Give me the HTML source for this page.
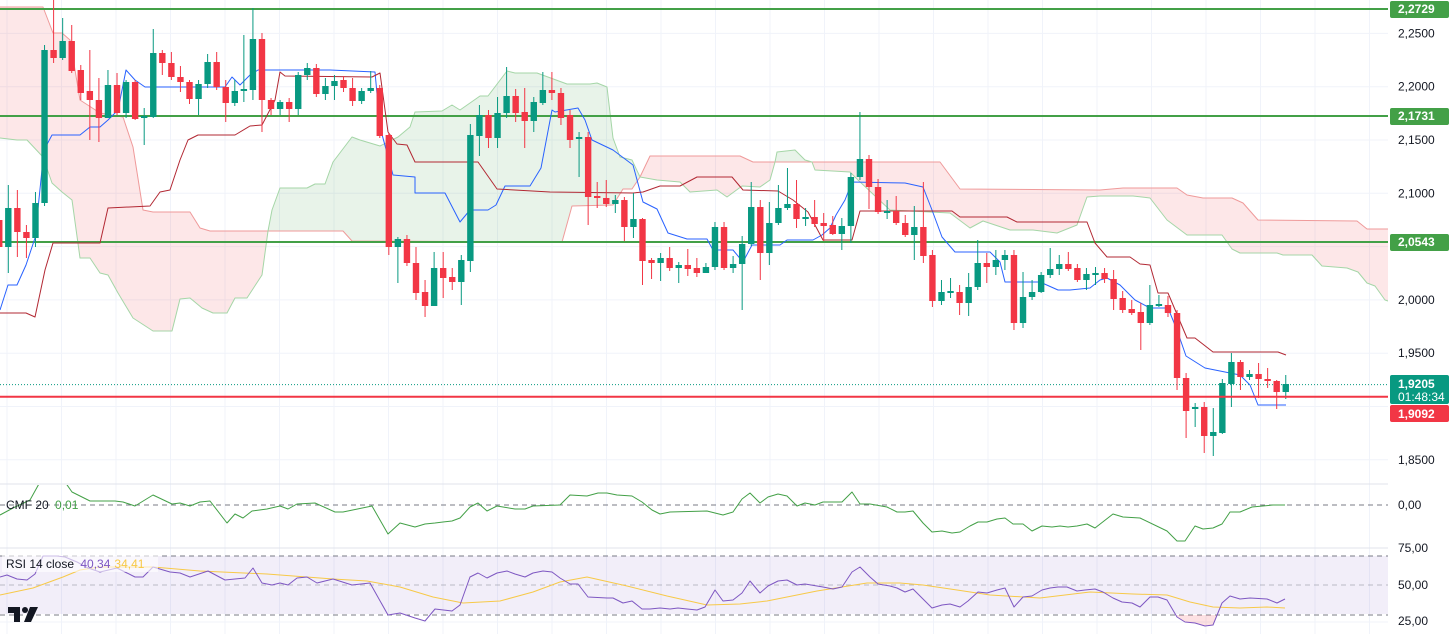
<!DOCTYPE html>
<html><head><meta charset="utf-8">
<style>
html,body{margin:0;padding:0;background:#fff;}
svg{display:block;font-family:"Liberation Sans",sans-serif;}
</style></head>
<body>
<svg id="s" width="1453" height="634" xmlns="http://www.w3.org/2000/svg"></svg>
<script>
const S=document.getElementById('s');
let h='';
const W=1388;
// grid
for(let x=7;x<W;x+=54.5) h+=`<line x1="${x}" y1="0" x2="${x}" y2="634" stroke="#f0f3fa" stroke-width="1"/>`;
const py=p=>9+(2.2729-p)*1066;
[2.25,2.2,2.15,2.1,2.05,2.0,1.95,1.9,1.85].forEach(p=>{h+=`<line x1="0" y1="${py(p)}" x2="${W}" y2="${py(p)}" stroke="#f0f3fa"/>`;});
h+=`<line x1="0" y1="622" x2="${W}" y2="622" stroke="#f0f3fa"/>`;
// panel separators
h+=`<line x1="0" y1="484" x2="1453" y2="484" stroke="#e0e3eb"/><line x1="0" y1="548" x2="1453" y2="548" stroke="#e0e3eb"/>`;
const pts=a=>a.map(p=>p.join(',')).join(' ');
function region(up,low,fill){return `<polygon points="${pts(up.concat(low.slice().reverse()))}" fill="${fill}"/>`;}
const RF='rgba(242,54,69,0.12)',GF='rgba(67,160,71,0.12)';
const B1=[[0,7],[43,7],[53,33],[62,33],[70,40],[80,100],[100,113],[123,117],[133,147],[143,210],[153,212],[190,212],[200,228],[210,231],[268,231]];
const A1=[[0,138],[17,140],[27,140],[43,157],[52,183],[62,192],[72,200],[80,258],[90,258],[100,273],[108,275],[118,293],[133,318],[153,331],[172,331],[180,299],[190,298],[202,308],[213,313],[227,313],[235,298],[247,298],[262,275],[268,231]];
const A2=[[268,231],[272,210],[280,188],[307,188],[315,184],[325,184],[333,162],[352,137],[360,140],[380,146],[398,137],[410,127],[415,112],[442,111],[452,105],[460,110],[480,96],[488,96],[507,71],[515,73],[537,73],[567,84],[590,84],[597,83],[607,87],[613,138],[620,157],[632,160],[640,177]];
const B2=[[268,231],[343,231],[352,241],[562,242],[572,206],[613,205],[623,189],[632,189],[640,177]];
const B3=[[640,177],[650,156],[740,156],[753,162],[775,162]];
const A3=[[640,177],[657,180],[680,182],[690,192],[717,190],[727,197],[742,186],[760,187],[770,180],[775,162]];
const A4=[[775,162],[777,152],[795,150],[805,160],[812,162]];
const B4=[[775,162],[812,162]];
const B5=[[812,162],[940,162],[960,189],[1100,190],[1123,188],[1177,188],[1187,195],[1203,198],[1232,198],[1243,203],[1258,220],[1357,221],[1367,229],[1388,229]];
const A5=[[812,162],[815,170],[850,172],[858,180],[890,210],[950,213],[970,228],[983,221],[1010,230],[1033,230],[1057,233],[1077,225],[1087,197],[1100,196],[1133,196],[1150,198],[1167,220],[1187,235],[1222,235],[1232,249],[1240,253],[1277,253],[1283,255],[1312,255],[1322,266],[1347,268],[1358,272],[1367,283],[1375,286],[1385,300],[1388,301]];
h+=region(B1,A1,RF)+region(A2,B2,GF)+region(B3,A3,RF)+region(A4,B4,GF)+region(B5,A5,RF);
const pl=(a,c,w)=>`<polyline points="${pts(a)}" fill="none" stroke="${c}" stroke-width="${w}" stroke-linejoin="round"/>`;
const SB='#ef9a9a',SA='#a5d6a7';
h+=pl(B1.concat(B2.slice(1),B3.slice(1),B4.slice(1),B5.slice(1)),SB,1);
h+=pl(A1.concat(A2.slice(1),A3.slice(1),A4.slice(1),A5.slice(1)),SA,1);
// horizontal levels
[9,116,242].forEach(y=>{h+=`<line x1="0" y1="${y}" x2="1390" y2="${y}" stroke="#43a047" stroke-width="2"/>`;});
h+=`<line x1="0" y1="384.6" x2="1390" y2="384.6" stroke="#089981" stroke-width="1" stroke-dasharray="1,2"/>`;
// tenkan / kijun
const TK=[[0,310],[8,285],[17,285],[26,265],[35,238],[44,150],[52,135],[80,135],[90,127],[100,127],[108,120],[118,110],[126,70],[135,80],[145,87],[155,87],[225,87],[232,77],[240,85],[250,75],[258,70],[330,70],[375,72],[380,127],[393,175],[415,177],[415,193],[445,193],[460,222],[470,210],[488,210],[496,205],[505,186],[530,186],[541,168],[552,110],[555,112],[578,108],[585,120],[592,140],[613,150],[633,165],[643,202],[657,209],[668,233],[687,239],[707,239],[713,250],[733,250],[743,262],[752,245],[780,245],[787,240],[813,240],[822,235],[830,228],[836,215],[845,200],[852,182],[905,183],[923,187],[932,210],[942,237],[955,252],[990,252],[1000,262],[1005,282],[1040,282],[1058,290],[1070,290],[1090,288],[1100,280],[1107,278],[1120,285],[1135,300],[1150,308],[1168,308],[1177,330],[1186,356],[1205,368],[1225,372],[1240,375],[1250,385],[1258,405],[1286,405]];
const KJ=[[0,313],[26,313],[35,317],[45,270],[53,243],[100,243],[108,208],[150,206],[160,192],[170,190],[180,160],[188,140],[198,135],[235,135],[250,126],[262,125],[275,100],[280,72],[285,76],[372,77],[380,73],[388,132],[397,144],[407,145],[415,162],[478,162],[497,189],[550,192],[633,193],[643,192],[660,186],[680,186],[697,177],[732,177],[743,190],[778,191],[793,200],[808,212],[823,240],[852,240],[860,211],[952,211],[960,217],[1007,217],[1017,222],[1087,222],[1095,243],[1107,257],[1130,257],[1140,264],[1150,265],[1158,293],[1168,293],[1187,338],[1195,338],[1213,352],[1278,352],[1286,355]];
h+=pl(TK,'#2962ff',1)+pl(KJ,'#b22833',1);
// candles
const C=[['g',208,247,185,273],['r',208,232,190,257],['r',232,238,225,258],['g',203,238,192,247],['g',50,203,45,206],['r',50,58,0,63],['g',41,58,18,60],['r',41,71,25,73],['r',70,93,65,100],['r',91,100,50,140],['r',100,118,78,142],['g',85,118,70,118],['r',85,113,73,115],['g',82,113,80,118],['r',82,119,80,120],['g',116,118,108,145],['g',53,117,29,118],['r',53,63,50,75],['r',63,77,52,80],['r',77,82,66,92],['r',82,99,80,104],['g',84,99,80,115],['g',62,84,54,88],['r',62,87,52,90],['r',87,103,80,122],['g',91,103,80,106],['g',89,91,35,102],['g',39,90,8,100],['r',39,100,33,132],['r',100,109,98,115],['g',102,109,100,115],['r',102,109,98,122],['g',75,109,72,115],['g',68,75,63,80],['r',68,94,64,97],['g',86,94,78,100],['g',81,86,75,100],['r',80,88,76,92],['r',88,101,78,106],['g',91,101,88,104],['g',88,91,71,93],['r',88,136,85,138],['r',135,247,133,255],['g',239,247,237,283],['r',239,263,235,266],['r',263,293,247,300],['r',292,306,280,317],['g',268,306,252,306],['r',268,278,252,298],['r',277,282,268,290],['g',260,282,255,305],['g',135,261,124,272],['g',115,136,105,156],['r',115,138,110,148],['g',113,138,97,148],['g',96,113,67,118],['r',96,113,89,122],['r',112,121,88,148],['g',102,121,97,132],['g',90,103,72,105],['r',90,93,72,100],['r',93,118,88,125],['r',115,140,110,148],['g',137,139,132,177],['r',137,197,132,225],['r',196,198,182,208],['r',198,204,180,207],['g',200,204,195,213],['r',200,227,197,241],['g',219,227,193,238],['r',219,261,218,285],['r',260,263,258,279],['g',258,263,253,281],['r',258,268,247,271],['g',265,268,262,283],['r',265,269,249,276],['r',268,273,258,277],['g',267,273,263,272],['g',227,267,222,270],['r',227,268,222,270],['g',264,268,256,273],['g',244,264,236,310],['g',207,244,182,246],['r',207,253,200,280],['g',223,253,202,265],['g',208,223,185,225],['g',204,208,168,210],['r',204,219,180,228],['g',217,219,208,226],['r',217,224,200,227],['r',223,226,213,241],['r',225,234,216,235],['g',226,234,218,250],['g',177,226,173,243],['g',159,177,112,180],['r',159,187,155,209],['r',187,212,179,214],['g',211,213,200,219],['r',211,223,196,225],['r',223,235,215,237],['g',227,235,206,260],['r',227,256,182,263],['r',255,301,250,307],['g',292,301,280,305],['g',291,293,278,298],['r',292,303,285,315],['g',287,303,273,316],['g',263,287,240,290],['r',263,267,253,283],['g',260,267,250,275],['g',255,260,250,270],['r',255,323,250,330],['g',297,323,272,328],['g',292,297,280,300],['g',275,292,272,293],['g',269,275,248,278],['g',264,269,255,275],['r',264,269,252,271],['r',268,280,264,282],['g',274,280,268,290],['g',273,275,267,285],['r',273,279,268,283],['r',279,299,270,310],['r',298,310,291,313],['r',309,313,300,315],['r',312,323,303,350],['g',305,323,285,325],['g',304,306,295,307],['r',305,313,296,317],['r',313,378,310,390],['r',378,411,373,438],['g',407,409,403,427],['r',407,436,402,453],['g',432,436,408,456],['g',383,433,379,434],['g',362,384,353,407],['r',362,377,360,390],['g',374,377,370,380],['r',374,379,363,398],['r',379,381,368,388],['r',381,392,380,409],['g',384,392,375,399]];
C.unshift(['r',220,247,215,252]);
C.forEach((c,k)=>{const i=k-1;const x=8.3+9.06*i;const col=c[0]=='g'?'#089981':'#f23645';
 h+=`<line x1="${x}" y1="${c[3]}" x2="${x}" y2="${c[4]}" stroke="${col}" stroke-width="1"/>`;
 h+=`<rect x="${x-3.2}" y="${c[1]}" width="6.4" height="${Math.max(1.5,c[2]-c[1])}" fill="${col}"/>`;});
// red support line
h+=`<line x1="0" y1="396.7" x2="1390" y2="396.7" stroke="#f23645" stroke-width="2"/>`;
// CMF
h+=`<line x1="0" y1="505" x2="1388" y2="505" stroke="#787b86" stroke-dasharray="5,4"/>`;
const CMF=[[0,515],[13,508],[30,500],[40,482],[65,482],[72,492],[90,501],[115,501],[123,502],[135,506],[153,495],[172,504],[180,503],[190,506],[200,502],[210,501],[227,523],[235,514],[243,518],[252,511],[267,509],[280,506],[288,509],[297,504],[315,503],[335,512],[343,512],[372,506],[388,534],[400,523],[415,527],[425,524],[435,523],[443,522],[452,521],[460,518],[470,507],[478,503],[487,511],[497,506],[515,509],[525,509],[533,506],[560,505],[570,495],[587,496],[598,493],[607,493],[617,495],[632,496],[642,502],[652,510],[660,514],[670,512],[707,511],[723,515],[733,512],[742,499],[750,493],[760,503],[768,497],[778,494],[787,496],[797,506],[805,503],[815,505],[823,502],[842,502],[852,492],[860,504],[870,504],[887,507],[897,512],[905,512],[913,511],[923,523],[932,532],[942,531],[952,533],[960,532],[970,526],[978,522],[987,522],[997,519],[1005,518],[1013,524],[1023,524],[1032,531],[1042,526],[1052,527],[1060,526],[1068,527],[1077,526],[1087,524],[1095,528],[1113,514],[1123,517],[1140,518],[1167,531],[1177,541],[1185,541],[1195,526],[1203,529],[1213,528],[1222,524],[1230,512],[1240,512],[1252,507],[1273,505],[1285,505]];
h+=`<clipPath id="cc"><rect x="0" y="485" width="1388" height="62"/></clipPath><g clip-path="url(#cc)">${pl(CMF,'#43a047',1)}</g>`;
// RSI
h+=`<rect x="0" y="556" width="1388" height="58" fill="rgba(126,87,194,0.1)"/>`;
h+=`<line x1="0" y1="556" x2="1388" y2="556" stroke="#787b86" stroke-dasharray="5,4"/><line x1="0" y1="585" x2="1388" y2="585" stroke="#9598a1" stroke-dasharray="5,4" stroke-opacity="0.6"/><line x1="0" y1="615" x2="1388" y2="615" stroke="#787b86" stroke-dasharray="5,4"/>`;
h+=`<polygon points="1175,615 1177,617 1185,622 1195,623 1205,626 1213,625 1217,615" fill="rgba(242,54,69,0.15)"/>`;
const MA=[[0,595],[33,588],[63,577],[80,570],[100,567],[153,567],[200,571],[267,574],[333,579],[367,581],[400,587],[433,597],[463,603],[500,601],[533,592],[560,582],[587,577],[627,586],[667,596],[707,605],[740,604],[767,601],[817,591],[867,583],[900,583],[923,585],[957,590],[990,595],[1040,598],[1090,592],[1133,594],[1167,595],[1190,602],[1213,607],[1240,608],[1267,607],[1285,608]];
const RSI=[[0,577],[7,575],[17,579],[27,580],[35,574],[43,556],[57,556],[65,557],[77,562],[88,568],[100,572],[117,568],[127,573],[135,577],[143,577],[153,567],[170,572],[180,573],[190,577],[208,571],[225,580],[245,578],[253,568],[262,583],[272,585],[280,583],[288,585],[297,578],[307,577],[317,583],[333,579],[352,585],[370,583],[388,615],[400,613],[415,618],[425,621],[435,609],[452,611],[460,605],[470,577],[478,573],[487,578],[497,573],[507,571],[515,574],[525,577],[533,573],[543,571],[552,572],[560,578],[570,584],[578,584],[588,597],[607,598],[613,598],[623,603],[632,601],[642,609],[650,609],[660,608],[670,609],[678,608],[687,609],[697,610],[705,607],[715,590],[723,601],[733,600],[742,593],[750,581],[760,593],[768,586],[778,581],[787,580],[797,585],[805,584],[823,587],[833,589],[842,587],[852,572],[860,567],[870,577],[878,584],[890,586],[897,588],[905,592],[913,589],[922,598],[932,608],[942,605],[950,604],[960,607],[968,601],[978,592],[987,593],[997,590],[1005,588],[1014,607],[1023,597],[1032,596],[1042,590],[1050,588],[1058,587],[1067,587],[1077,591],[1085,590],[1095,589],[1103,592],[1113,598],[1122,602],[1132,603],[1140,607],[1150,597],[1158,597],[1167,600],[1177,617],[1185,622],[1195,623],[1205,626],[1213,625],[1222,603],[1230,596],[1240,599],[1250,598],[1267,599],[1277,603],[1285,599]];
h+=pl(MA,'#f7c948',1)+pl(RSI,'#7e57c2',1);
// legends
h+=`<text x="6" y="509" font-size="12" fill="#131722">CMF 20 <tspan fill="#43a047" dx="3">0,01</tspan></text>`;
h+=`<rect x="2" y="555" width="156" height="17" fill="rgba(255,255,255,0.6)"/>`;
h+=`<text x="6" y="568" font-size="12" fill="#131722">RSI 14 close <tspan fill="#7e57c2" dx="3">40,34</tspan><tspan fill="#f7c948" dx="4">34,41</tspan></text>`;
// TV logo
h+=`<path d="M8 607h12v15h-6v-9h-6z" fill="#131722"/><circle cx="25" cy="610" r="3" fill="#131722"/><path d="M30 607h8l-7 15h-7z" fill="#131722"/>`;
// axis area
h+=`<rect x="1388" y="0" width="65" height="634" fill="#fff"/>`;
[[2.25,'2,2500'],[2.2,'2,2000'],[2.15,'2,1500'],[2.1,'2,1000'],[2.0,'2,0000'],[1.95,'1,9500'],[1.85,'1,8500']].forEach(t=>{h+=`<text x="1398" y="${py(t[0])+4}" font-size="12" fill="#131722">${t[1]}</text>`;});
h+=`<text x="1398" y="509" font-size="12" fill="#131722">0,00</text>`;
h+=`<text x="1398" y="552" font-size="12" fill="#131722">75,00</text><text x="1398" y="589" font-size="12" fill="#131722">50,00</text><text x="1398" y="625" font-size="12" fill="#131722">25,00</text>`;
[[9,'2,2729'],[116,'2,1731'],[242,'2,0543']].forEach(t=>{h+=`<rect x="1390" y="${t[0]-8}" width="59" height="17" rx="2" fill="#43a047"/><text x="1398" y="${t[0]+4}" font-size="12" font-weight="bold" fill="#fff">${t[1]}</text>`;});
h+=`<rect x="1390" y="375" width="59" height="29" rx="2" fill="#089981"/><text x="1398" y="388" font-size="12" font-weight="bold" fill="#fff">1,9205</text><text x="1398" y="401" font-size="12" fill="#fff">01:48:34</text>`;
h+=`<rect x="1390" y="405" width="59" height="17" rx="2" fill="#f23645"/><text x="1398" y="418" font-size="12" font-weight="bold" fill="#fff">1,9092</text>`;
S.innerHTML=h;
</script>
</body></html>
